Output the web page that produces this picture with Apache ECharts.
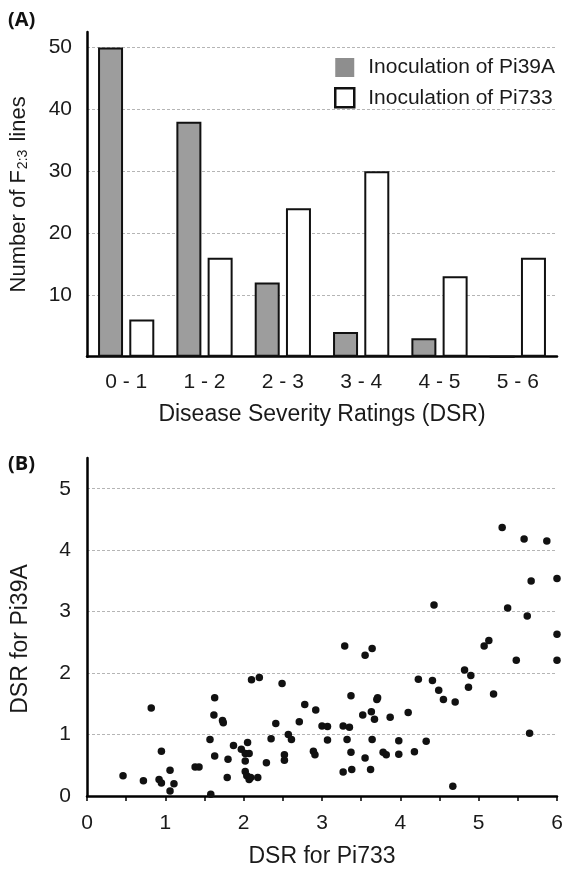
<!DOCTYPE html>
<html>
<head>
<meta charset="utf-8">
<script src="https://cdn.jsdelivr.net/npm/echarts@6/dist/echarts.min.js"></script>
<style>html,body{margin:0;padding:0;background:#fff;}#c{width:568px;height:873px;}</style>
</head>
<body>
<div id="c"></div>
<script>
// Panel A data
const categories = ['0 - 1', '1 - 2', '2 - 3', '3 - 4', '4 - 5', '5 - 6'];
const pi39aCounts = [50, 38, 12, 4, 3, 0];
const pi733Counts = [6, 16, 24, 30, 13, 16];
const countTicks = [0, 10, 20, 30, 40, 50];

// Panel B data (DSR for Pi733 = x, DSR for Pi39A = y)
const dsrPi733 = [0.46,0.72,0.82,0.92,0.95,0.95,1.06,1.11,1.06,1.38,1.43,1.58,1.57,1.63,1.62,1.73,1.74,1.63,1.80,1.79,1.87,1.97,
  2.05,2.02,2.07,2.02,2.02,2.04,2.07,2.09,2.18,2.10,2.20,2.29,2.35,2.41,2.49,2.52,2.52,2.57,2.61,2.71,2.78,2.89,2.91,2.92,3.00,3.07,3.07,
  3.27,3.27,3.35,3.32,3.37,3.38,3.37,3.29,3.55,3.64,3.52,3.63,3.67,3.70,3.71,3.55,3.64,3.62,3.78,3.82,3.87,3.98,3.98,
  4.10,4.18,4.33,4.23,4.41,4.49,4.55,4.70,4.67,4.82,4.90,4.87,5.19,5.07,5.13,5.48,6.00,5.65,4.43,5.37,5.62,5.67,6.00,6.00,5.30,5.58,5.87];
const dsrPi39A = [0.33,0.25,1.43,0.27,0.21,0.73,0.42,0.20,0.08,0.47,0.47,0.03,0.92,1.60,1.32,1.23,1.19,0.65,0.60,0.30,0.82,0.76,
  0.87,0.69,0.69,0.57,0.40,0.33,0.27,0.30,0.30,1.89,1.93,0.54,0.93,1.18,1.83,0.67,0.58,1.00,0.92,1.21,1.49,0.73,0.67,1.40,1.14,1.13,0.91,
  0.39,1.14,1.12,0.92,0.71,0.43,1.63,2.44,2.29,2.40,1.32,1.37,1.25,1.57,1.60,0.62,0.92,0.43,0.71,0.67,1.28,0.90,0.68,
  1.36,0.72,0.89,1.90,1.88,1.72,1.57,1.53,0.16,2.05,1.96,1.77,1.66,2.44,2.53,2.21,2.21,1.02,3.11,3.06,2.93,3.50,3.54,2.63,4.37,4.18,4.15];
const dsrTicks = [0, 1, 2, 3, 4, 5];
const pi733Ticks = [0, 1, 2, 3, 4, 5, 6];

const scatterData = dsrPi733.map((x, i) => [x, dsrPi39A[i]]);

const FONT = 'Liberation Sans, Arial, sans-serif';
const TXT = '#1a1a1a';
const axisLineStyle = { color: '#000', width: 2.5 };
const gridLine = { show: true, showMinLine: false, showMaxLine: false, lineStyle: { color: '#b5b5b5', width: 1, type: [3, 2] } };

const chart = echarts.init(document.getElementById('c'), null, { renderer: 'canvas' });
chart.setOption({
  animation: false,
  backgroundColor: '#fff',
  textStyle: { fontFamily: FONT, color: TXT },
  title: [
    { text: '(A)', left: 3, top: 5, textStyle: { fontFamily: 'Open Sans', fontWeight: 'bold', fontSize: 20, color: '#111' } },
    { text: '(B)', left: 3, top: 449, textStyle: { fontFamily: 'Open Sans', fontWeight: 'bold', fontSize: 20, color: '#111' } }
  ],
  legend: {
    orient: 'vertical', left: 329, top: 52, itemWidth: 19, itemHeight: 19, itemGap: 9,
    icon: 'rect',
    textStyle: { fontSize: 21, color: TXT, fontFamily: FONT, padding: [0, 0, 0, 9] },
    data: [
      { name: 'Inoculation of Pi39A', itemStyle: { color: '#8e8e8e', borderWidth: 0 } },
      { name: 'Inoculation of Pi733', itemStyle: { color: '#fff', borderColor: '#111', borderWidth: 2.5 } }
    ]
  },
  grid: [
    { left: 87, top: 32, width: 470, height: 324.7 },
    { left: 87, top: 458, width: 470, height: 338 }
  ],
  xAxis: [
    {
      gridIndex: 0, type: 'category', data: categories,
      axisLine: { lineStyle: axisLineStyle }, axisTick: { show: false },
      axisLabel: { fontSize: 21, margin: 15, color: TXT },
      name: 'Disease Severity Ratings (DSR)', nameLocation: 'middle', nameGap: 46,
      nameTextStyle: { fontSize: 23, color: TXT }
    },
    {
      gridIndex: 1, type: 'value', min: pi733Ticks[0], max: pi733Ticks[pi733Ticks.length - 1], interval: 1,
      axisLine: { show: true, onZero: false, lineStyle: axisLineStyle },
      axisTick: { show: true, length: 5, lineStyle: { color: '#000', width: 1.5 } },
      minorTick: { show: true, splitNumber: 2, length: 5, lineStyle: { color: '#000', width: 1.5 } },
      splitLine: { show: false },
      axisLabel: { fontSize: 21, margin: 17, color: TXT },
      name: 'DSR for Pi733', nameLocation: 'middle', nameGap: 49,
      nameTextStyle: { fontSize: 23, color: TXT }
    }
  ],
  yAxis: [
    {
      gridIndex: 0, type: 'value', min: countTicks[0], max: 52.5, interval: 10,
      axisLine: { show: true, lineStyle: axisLineStyle }, axisTick: { show: false },
      axisLabel: { fontSize: 21, margin: 15, color: TXT, formatter: v => (countTicks.indexOf(v) > 0 ? String(v) : '') },
      splitLine: gridLine,
      name: 'Number of F{sub|2:3} lines', nameLocation: 'middle', nameGap: 57,
      nameTextStyle: { fontSize: 22, color: TXT, rich: { sub: { fontSize: 14, color: TXT, verticalAlign: 'bottom', padding: [0, 2, 0, 1] } } }
    },
    {
      gridIndex: 1, type: 'value', min: dsrTicks[0], max: 5.5, interval: 1,
      axisLine: { show: true, onZero: false, lineStyle: axisLineStyle }, axisTick: { show: false },
      axisLabel: { fontSize: 21, margin: 16, color: TXT, formatter: v => (dsrTicks.indexOf(v) >= 0 ? String(v) : '') },
      splitLine: gridLine,
      name: 'DSR for Pi39A', nameLocation: 'middle', nameGap: 55,
      nameTextStyle: { fontSize: 23, color: TXT, padding: [0, 24, 0, 0] }
    }
  ],
  series: [
    {
      name: 'Inoculation of Pi39A', type: 'bar', xAxisIndex: 0, yAxisIndex: 0, data: pi39aCounts,
      barWidth: 25, barGap: '25%',
      itemStyle: { color: '#9d9d9d', borderColor: '#111', borderWidth: 2 }
    },
    {
      name: 'Inoculation of Pi733', type: 'bar', xAxisIndex: 0, yAxisIndex: 0, data: pi733Counts,
      barWidth: 25, barGap: '25%',
      itemStyle: { color: '#fff', borderColor: '#111', borderWidth: 2 }
    },
    {
      name: 'DSR', type: 'scatter', xAxisIndex: 1, yAxisIndex: 1, data: scatterData,
      symbolSize: 7.5, itemStyle: { color: '#111', opacity: 1 }
    }
  ]
});
</script>
</body>
</html>
